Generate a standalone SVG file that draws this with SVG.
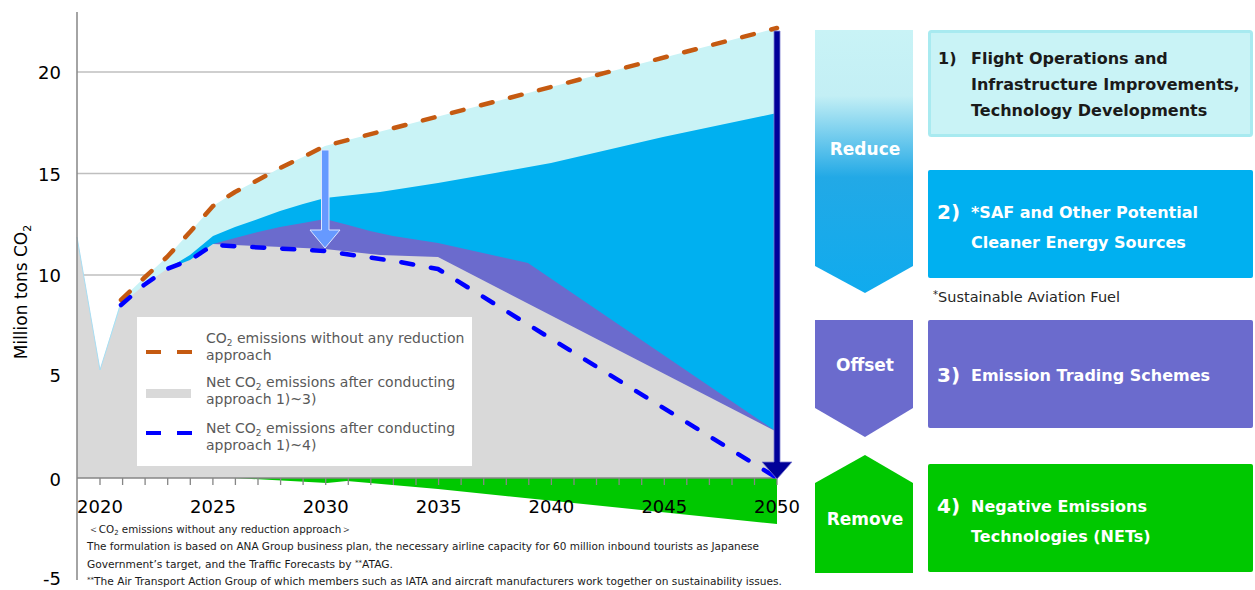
<svg xmlns="http://www.w3.org/2000/svg" width="1255" height="590" viewBox="0 0 1255 590">
<defs>
<style>
text{font-family:"DejaVu Sans",Verdana,sans-serif}
.ax{font-size:18px;fill:#000}
.lg{font-size:14px;fill:#595959}
.fn{font-size:10.5px;fill:#1a1a1a}
.grid{stroke:#BFBFBF;stroke-width:1.3}
.bt{font-size:16px;font-weight:bold;fill:#fff}
.bk{fill:#1a1a1a}
.num{font-size:20px;font-weight:bold;fill:#fff}
.al{font-size:17px;font-weight:bold;fill:#fff;text-anchor:middle}
.dash{fill:none;stroke-width:4.5;stroke-dasharray:12 18;stroke-linecap:round;stroke-linejoin:round}
</style>
<linearGradient id="gReduce" x1="0" y1="0" x2="0" y2="1">
<stop offset="0" stop-color="#C9F3F6"/>
<stop offset="0.25" stop-color="#C3EFF5"/>
<stop offset="0.56" stop-color="#22A9E6"/>
<stop offset="1" stop-color="#10ABEE"/>
</linearGradient>
</defs>
<rect width="1255" height="590" fill="#fff"/>

<g id="chart">
<line class="grid" x1="77" y1="72" x2="777" y2="72"/>
<line class="grid" x1="77" y1="173.5" x2="777" y2="173.5"/>
<line class="grid" x1="77" y1="275" x2="777" y2="275"/>
<line class="grid" x1="77" y1="376.5" x2="777" y2="376.5"/>
<path d="M77,237 L100,370 L121,300 L144,278 L167,257 L190,232 L213,206 L235,192 L258,180 L280,168 L303,157 L325,146 L777,28 L777,478 L77,478 Z" fill="#C9F3F6"/>
<path d="M167,269 L190,255 L213,236 L235,227 L258,219 L280,211 L303,204 L325,198 L380,192 L438,183 L495,173 L551,163 L607,150 L663,137 L720,125 L777,113 L777,478 L167,478 Z" fill="#00B0F0"/>
<path d="M213,244 L235,238 L258,232 L280,227 L303,223 L325,219 L348,225 L370,231 L393,236 L438,243 L528,263 L777,432 L777,478 L213,478 Z" fill="#6B6BCD"/>
<path d="M77,237 L100,370 L121,305 L144,285 L167,269 L190,260 L213,244 L325,249 L380,255 L438,257 L777,432 L777,478 L77,478 Z" fill="#D9D9D9"/>
<polyline points="77,237 100,370 121,303" fill="none" stroke="#A9DDF2" stroke-width="1"/>
<path d="M233,478 L327,483 L347,481 L438,489 L777,524 L777,478 Z" fill="#00C800"/>
<line x1="77" y1="12" x2="77" y2="580" stroke="#868686" stroke-width="1.5"/>
<line x1="77" y1="478" x2="777" y2="478" stroke="#868686" stroke-width="1.5"/>
<path d="M100,478v7M122.6,478v7M145.1,478v7M167.7,478v7M190.3,478v7M212.9,478v7M235.4,478v7M258,478v7M280.6,478v7M303.1,478v7M325.7,478v7M348.3,478v7M370.8,478v7M393.4,478v7M416,478v7M438.6,478v7M461.1,478v7M483.7,478v7M506.3,478v7M528.8,478v7M551.4,478v7M574,478v7M596.5,478v7M619.1,478v7M641.7,478v7M664.3,478v7M686.8,478v7M709.4,478v7M732,478v7M754.5,478v7M777,478v7" stroke="#868686" stroke-width="1.3"/>
<path class="dash" d="M121,300 L144,278 L167,257 L190,232 L213,206 L235,192 L258,180 L280,168 L303,157 L325,146 L777,28" stroke="#C55A11"/>
<path class="dash" d="M121,305 L144,285 L167,269 L190,260 L213,245 L325,251 L400,262 L438,269 L777,478" stroke="#0000FF"/>

<g id="yaxis" class="ax" text-anchor="end">
<text x="61" y="79">20</text>
<text x="61" y="181">15</text>
<text x="61" y="282">10</text>
<text x="61" y="382">5</text>
<text x="61" y="486">0</text>
<text x="61" y="585">-5</text>
</g>
<text transform="translate(27,292) rotate(-90)" font-size="17" fill="#000" text-anchor="middle">Million tons CO<tspan font-size="11" dy="4">2</tspan></text>
<g id="xaxis" class="ax" text-anchor="middle">
<text x="100" y="513">2020</text>
<text x="213" y="513">2025</text>
<text x="325.7" y="513">2030</text>
<text x="438.6" y="513">2035</text>
<text x="551.4" y="513">2040</text>
<text x="664.3" y="513">2045</text>
<text x="777" y="513">2050</text>
</g>
</g>

<g id="legend">
<rect x="137" y="317" width="335" height="149" fill="#fff"/>
<line x1="146" y1="352" x2="192" y2="352" stroke="#C55A11" stroke-width="4" stroke-dasharray="15 16"/>
<rect x="146" y="389" width="45" height="9" fill="#D9D9D9"/>
<line x1="146" y1="433" x2="192" y2="433" stroke="#0000FF" stroke-width="4" stroke-dasharray="15 16"/>
<text class="lg" x="206" y="343">CO<tspan font-size="9" dy="3">2</tspan><tspan dy="-3"> emissions without any reduction</tspan></text>
<text class="lg" x="206" y="360">approach</text>
<text class="lg" x="206" y="387">Net CO<tspan font-size="9" dy="3">2</tspan><tspan dy="-3"> emissions after conducting</tspan></text>
<text class="lg" x="206" y="404">approach 1)~3)</text>
<text class="lg" x="206" y="433">Net CO<tspan font-size="9" dy="3">2</tspan><tspan dy="-3"> emissions after conducting</tspan></text>
<text class="lg" x="206" y="450">approach 1)~4)</text>
</g>

<g id="connectors">
<path d="M321.5,150 H329 V230 H340 L325,248 L310,230 H321.5 Z" fill="#6699FF" stroke="#DCE6FF" stroke-width="1"/>
<path d="M774,31 H780 V462 H792 L777,479 L762,462 H774 Z" fill="#000099" stroke="#7F7FD0" stroke-width="0.8"/>
</g>

<g id="footnotes" class="fn">
<text x="88" y="533" textLength="264" lengthAdjust="spacingAndGlyphs">＜CO<tspan font-size="7" dy="2">2</tspan><tspan dy="-2"> emissions without any reduction approach＞</tspan></text>
<text x="87" y="550" textLength="672" lengthAdjust="spacingAndGlyphs">The formulation is based on ANA Group business plan, the necessary airline capacity for 60 million inbound tourists as Japanese</text>
<text x="87" y="568" textLength="306" lengthAdjust="spacingAndGlyphs">Government’s target, and the Traffic Forecasts by <tspan font-size="7" dy="-3">**</tspan><tspan dy="3">ATAG.</tspan></text>
<text x="87" y="585" textLength="695" lengthAdjust="spacingAndGlyphs"><tspan font-size="7" dy="-3">**</tspan><tspan dy="3">The Air Transport Action Group of which members such as IATA and aircraft manufacturers work together on sustainability issues.</tspan></text>
</g>

<g id="reduce">
<path d="M815,30 H913 V266 L865,293 L815,266 Z" fill="url(#gReduce)"/>
<text class="al" x="865" y="155">Reduce</text>
</g>
<g id="offset">
<path d="M815,320 H913 V408 L865,437 L815,408 Z" fill="#6B6BCD"/>
<text class="al" x="865" y="371">Offset</text>
</g>
<g id="remove">
<path d="M865,455 L913,483 V573 H815 V483 Z" fill="#00C800"/>
<text class="al" x="865" y="525">Remove</text>
</g>

<g id="box1">
<rect x="929.5" y="31.5" width="322" height="104" rx="2" fill="#C9F3F6" stroke="#A8EAF0" stroke-width="3"/>
<text class="bt bk" x="938" y="64">1)</text>
<text class="bt bk" x="971" y="64">Flight Operations and</text>
<text class="bt bk" x="971" y="90">Infrastructure Improvements,</text>
<text class="bt bk" x="971" y="116">Technology Developments</text>
</g>
<g id="box2">
<rect x="928" y="170" width="325" height="108" rx="2" fill="#00B0F0"/>
<text class="num" x="937" y="219">2)</text>
<text class="bt" x="971" y="218">*SAF and Other Potential</text>
<text class="bt" x="971" y="248">Cleaner Energy Sources</text>
</g>
<text x="933" y="302" font-size="14.5" fill="#262626"><tspan font-size="10" dy="-4">*</tspan><tspan dy="4">Sustainable Aviation Fuel</tspan></text>
<g id="box3">
<rect x="928" y="320" width="325" height="108" rx="2" fill="#6B6BCD"/>
<text class="num" x="937" y="382">3)</text>
<text class="bt" x="971" y="381">Emission Trading Schemes</text>
</g>
<g id="box4">
<rect x="928" y="464" width="325" height="108" rx="2" fill="#00C800"/>
<text class="num" x="937" y="513">4)</text>
<text class="bt" x="971" y="512">Negative Emissions</text>
<text class="bt" x="971" y="542">Technologies (NETs)</text>
</g>
</svg>
